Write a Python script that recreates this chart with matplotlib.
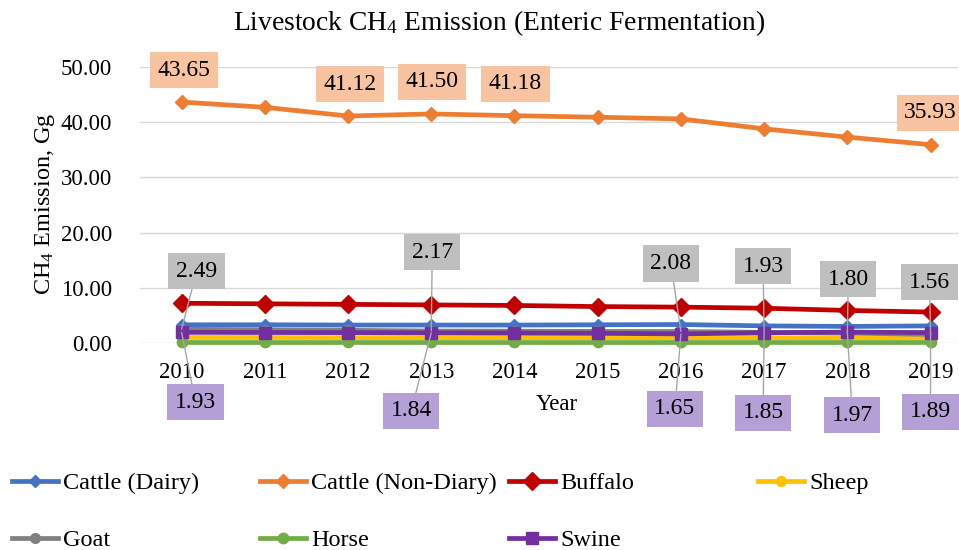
import matplotlib.pyplot as plt

plt.rcParams['font.family'] = ['Liberation Serif', 'DejaVu Serif']
plt.rcParams['mathtext.fontset'] = 'custom'
plt.rcParams['mathtext.rm'] = 'Liberation Serif'
plt.rcParams['mathtext.it'] = 'Liberation Serif:italic'

years = ['2010', '2011', '2012', '2013', '2014', '2015', '2016', '2017', '2018', '2019']
cattle_dairy = [3.3, 3.3, 3.25, 3.25, 3.25, 3.3, 3.35, 3.1, 3.0, 3.1]
cattle_non_dairy = [43.65, 42.7, 41.12, 41.50, 41.18, 40.9, 40.6, 38.8, 37.3, 35.93]
buffalo = [7.2, 7.1, 7.0, 6.9, 6.8, 6.6, 6.5, 6.3, 5.9, 5.6]
sheep = [1.0, 1.0, 0.98, 0.97, 0.97, 0.96, 0.95, 0.95, 0.94, 0.93]
goat = [2.49, 2.4, 2.3, 2.17, 2.15, 2.1, 2.08, 1.93, 1.80, 1.56]
horse = [0.2, 0.2, 0.2, 0.2, 0.2, 0.2, 0.2, 0.2, 0.2, 0.2]
swine = [1.93, 1.9, 1.88, 1.84, 1.8, 1.75, 1.65, 1.85, 1.97, 1.89]

# which points get a data label, and where the label box sits (pixels from the point)
orange_idx = [0, 2, 3, 4, 9]
orange_off = [(2, 32), (2, 32), (1, 32), (1, 32), (0, 32)]
gray_idx = [0, 3, 6, 7, 8, 9]
gray_off = [(15, 58), (1, 79), (-10, 68), (-1, 66), (1, 54), (-1, 52)]
purple_idx = [0, 3, 6, 7, 8, 9]
purple_off = [(14, -70), (-20, -78), (-6, -75), (-1, -80), (5, -83), (0, -79)]

W, H = 959, 550
fig = plt.figure(figsize=(W / 100, H / 100), dpi=100)
ax = fig.add_axes([140 / W, 1 - 343 / H, (958 - 140) / W, (343 - 67) / H])

x = list(range(len(years)))
series = [
    ('Cattle (Dairy)', cattle_dairy, '#4472C4', 'D', 6.5),
    ('Cattle (Non-Diary)', cattle_non_dairy, '#ED7D31', 'D', 7.5),
    ('Buffalo', buffalo, '#C00000', 'D', 9.2),
    ('Sheep', sheep, '#FFC000', 'o', 7),
    ('Goat', goat, '#808080', 'o', 7),
    ('Horse', horse, '#70AD47', 'o', 7.5),
    ('Swine', swine, '#7030A0', 's', 8),
]
handles = []
for name, vals, col, mk, ms in series:
    ln, = ax.plot(x, vals, color=col, lw=3.4, marker=mk, ms=ms, clip_on=False,
                  label=name)
    handles.append(ln)

ax.set_xlim(-0.5, 9.33)
ax.set_ylim(0, 50)
ax.set_yticks(range(0, 51, 10))
ax.set_yticklabels(['%.2f' % v for v in range(0, 51, 10)])
ax.set_xticks(x)
ax.set_xticklabels(years)
ax.tick_params(length=0, labelsize=16.5)
ax.tick_params(axis='y', pad=20)
ax.tick_params(axis='x', pad=14)
ax.grid(axis='y', color='#D9D9D9', lw=1)
ax.set_axisbelow(True)
for s in ax.spines.values():
    s.set_visible(False)


def label(idx, vals, offs, face, leader):
    for i, (dx, dy) in zip(idx, offs):
        ap = None
        if leader:
            ap = dict(arrowstyle='-', color='#A6A6A6', lw=1, shrinkA=0, shrinkB=0)
        ax.annotate('%.2f' % vals[i], xy=(i, vals[i]), xytext=(dx, dy),
                    textcoords='offset pixels', ha='center', va='center',
                    fontsize=17, zorder=5, annotation_clip=False,
                    bbox=dict(boxstyle='square,pad=0.32', fc=face, ec='none'),
                    arrowprops=ap)


label(orange_idx, cattle_non_dairy, orange_off, '#F8C3A0', False)
label(gray_idx, goat, gray_off, '#BFBFBF', True)
label(purple_idx, swine, purple_off, '#B4A0D6', True)

fig.text(499 / W, 1 - 23 / H, 'Livestock CH$_4$ Emission (Enteric Fermentation)',
         ha='center', va='center', fontsize=19.8)
fig.text(45 / W, 1 - 204 / H, 'CH$_4$ Emission, Gg', rotation=90,
         ha='center', va='center', fontsize=17.5)
fig.text(557 / W, 1 - 405 / H, 'Year', ha='center', va='center', fontsize=16.5)

# legend: 4 columns, 2 rows, placed one entry at a time
col_x = [12, 260, 509, 758]
row_y = [483, 540]
for k, h in enumerate(handles):
    lx = col_x[k % 4]
    ly = row_y[k // 4]
    fig.legend(handles=[h], labels=[h.get_label()], loc='center left',
               bbox_to_anchor=(lx / W, 1 - ly / H), frameon=False,
               borderpad=0, borderaxespad=0, handlelength=1.9,
               handletextpad=0.2, fontsize=17.5)

fig.savefig('out.png', dpi=100)
